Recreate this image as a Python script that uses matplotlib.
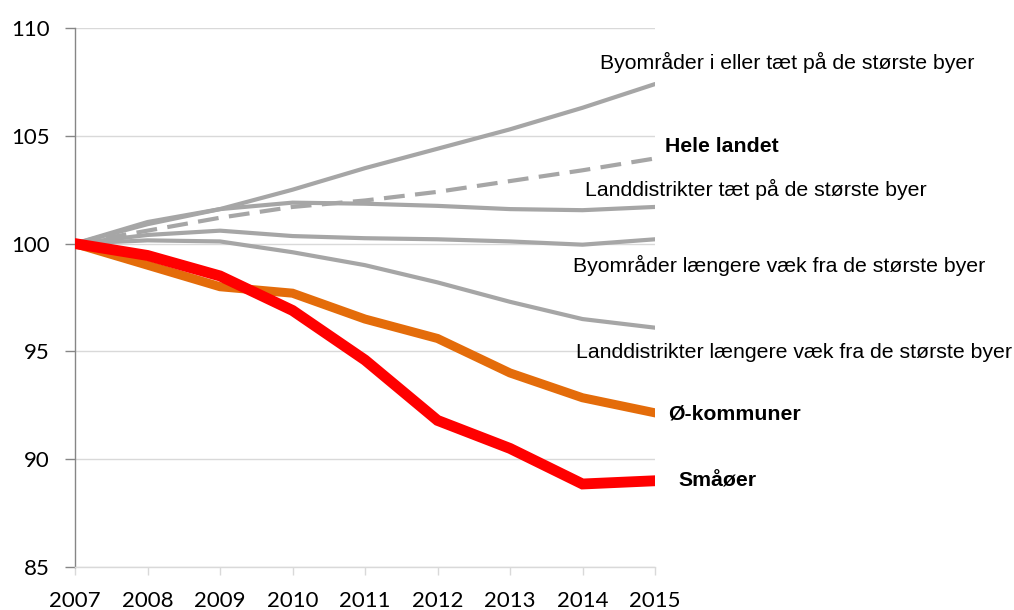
import matplotlib
matplotlib.use("Agg")
import matplotlib.pyplot as plt

years = [2007, 2008, 2009, 2010, 2011, 2012, 2013, 2014, 2015]

by_naer = [100, 100.9, 101.6, 102.5, 103.5, 104.4, 105.3, 106.3, 107.4]
hele_landet = [100, 100.6, 101.2, 101.7, 102.0, 102.4, 102.9, 103.4, 103.95]
land_naer = [100, 101.0, 101.6, 101.9, 101.85, 101.75, 101.6, 101.55, 101.7]
by_fjern = [100, 100.4, 100.6, 100.35, 100.25, 100.2, 100.1, 99.95, 100.2]
land_fjern = [100, 100.15, 100.1, 99.6, 99.0, 98.2, 97.3, 96.5, 96.1]
oe_kommuner = [100, 99.0, 98.0, 97.7, 96.5, 95.6, 94.0, 92.85, 92.15]
smaaoeer = [100, 99.45, 98.5, 96.9, 94.6, 91.8, 90.5, 88.85, 89.0]

labels = {
    "by_naer": "Byområder i eller tæt på de største byer",
    "hele": "Hele landet",
    "land_naer": "Landdistrikter tæt på de største byer",
    "by_fjern": "Byområder længere væk fra de største byer",
    "land_fjern": "Landdistrikter længere væk fra de største byer",
    "oe": "Ø-kommuner",
    "smaa": "Småøer",
}

yticks = [85, 90, 95, 100, 105, 110]

fig = plt.figure(figsize=(10.14, 6.10), dpi=100)
ax = fig.add_axes([75/1014, 43/610, 580/1014, 539/610])

gray = "#A6A6A6"
ax.plot(years, land_fjern, color=gray, lw=3.0, solid_capstyle="round", zorder=3)
ax.plot(years, by_fjern, color=gray, lw=3.0, solid_capstyle="round", zorder=3)
ax.plot(years, land_naer, color=gray, lw=3.0, solid_capstyle="round", zorder=3)
ax.plot(years, hele_landet, color=gray, lw=3.0, dashes=(5, 2.5), dash_capstyle="butt", zorder=3)
ax.plot(years, by_naer, color=gray, lw=3.0, solid_capstyle="round", zorder=3)
ax.plot(years, oe_kommuner, color="#E46C0A", lw=6.5, solid_joinstyle="miter", zorder=4)
ax.plot(years, smaaoeer, color="#FF0000", lw=7.8, solid_joinstyle="miter", zorder=5)

ax.set_xlim(2007, 2015)
ax.set_ylim(85, 110)
ax.set_yticks(yticks)
ax.set_xticks(years)
ax.grid(axis="y", color="#D9D9D9", lw=1.0, zorder=0)
ax.set_axisbelow(True)
for s in ["top", "right"]:
    ax.spines[s].set_visible(False)
ax.spines["left"].set_color("#868686")
ax.spines["left"].set_linewidth(1.0)
ax.spines["bottom"].set_color("#D9D9D9")
ax.spines["bottom"].set_linewidth(1.0)
ax.tick_params(axis="y", direction="out", length=7, width=1, color="#868686",
               labelsize=16, pad=11)
ax.tick_params(axis="x", direction="out", length=6, width=1, color="#D9D9D9",
               labelsize=16, pad=11)
for t in ax.get_xticklabels() + ax.get_yticklabels():
    t.set_fontfamily("Lato")

tf = dict(fontfamily="Liberation Sans", fontsize=15.3, va="center", clip_on=False)
tb = dict(fontfamily="Liberation Sans", fontsize=15.3, va="center", fontweight="bold", clip_on=False)
ax.text(2014.24, 108.4, labels["by_naer"], **tf)
ax.text(2015.14, 104.5, labels["hele"], **tb)
ax.text(2014.03, 102.5, labels["land_naer"], **tf)
ax.text(2013.87, 99.0, labels["by_fjern"], **tf)
ax.text(2013.91, 94.95, labels["land_fjern"], **tf)
ax.text(2015.18, 92.1, labels["oe"], **tb)
ax.text(2015.33, 89.0, labels["smaa"], **tb)

fig.savefig("out.png", dpi=100)
